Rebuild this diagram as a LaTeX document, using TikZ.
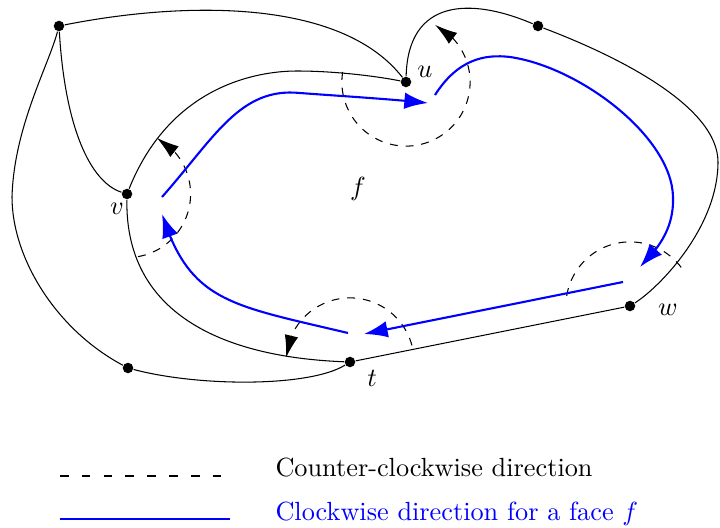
\documentclass[tikz,border=0pt]{standalone}
\usetikzlibrary{arrows.meta,bending}
\begin{document}
\begin{tikzpicture}[x=0.3806pt,y=0.3806pt,
  dot/.style={circle,fill=black,inner sep=0pt,minimum size=4pt},
  edge/.style={line width=0.4pt},
  turn/.style={dashed,line width=0.4pt},
  turnarrow/.style={turn,-{Latex[length=8.5pt,width=5.2pt]}},
  walk/.style={blue,line width=0.8pt,-{Latex[length=9pt,width=6.3pt]}},
  lbl/.style={inner sep=1pt}]
\useasboundingbox (0,0) rectangle (720,527);

% vertices
\node[dot] (A) at (59,501) {};
\node[dot] (B) at (538,501) {};
\node[dot] (u) at (406,445) {};
\node[dot] (v) at (127,333) {};
\node[dot] (w) at (630,221) {};
\node[dot] (t) at (350,165) {};
\node[dot] (C) at (128,159) {};

% edges of the graph
\draw[edge] (A) .. controls (180,525) and (340,530) .. (u);
\draw[edge] (u) .. controls (408,528) and (470,530) .. (B);
\draw[edge] (B) .. controls (620,470) and (718,420) .. (718,365)
                .. controls (718,300) and (660,240) .. (w);
\draw[edge] (u) .. controls (370,452) and (330,456) .. (297,456)
                .. controls (255,456) and (170,440) .. (v);
\draw[edge] (A) .. controls (65,400) and (90,345) .. (v);
\draw[edge] (A) .. controls (48,460) and (14,400) .. (12,330)
                .. controls (12,270) and (55,198) .. (C);
\draw[edge] (v) .. controls (125,215) and (220,170) .. (t);
\draw[edge] (C) .. controls (200,140) and (310,140) .. (t);
\draw[edge] (t) -- (w);

% rotations around the vertices
\draw[turnarrow] (u) ++(171:24.4pt) arc[start angle=171, end angle=423, radius=24.4pt];
\draw[turnarrow] (v) ++(-80:24.2pt) arc[start angle=-80, end angle=62, radius=24.2pt];
\draw[turnarrow] (t) ++(15:24.4pt) arc[start angle=15, end angle=176, radius=24.4pt];
\draw[turn] (w) ++(37:24.4pt) arc[start angle=37, end angle=177, radius=24.4pt];

% walk along the face f
\coordinate (b1s) at (162,330); \coordinate (b1e) at (428,424);
\draw[walk] (b1s) .. controls (215,390) and (240,440) .. (300,434)
                  .. controls (340,431) and (390,428) .. (b1e);
\coordinate (b2s) at (435,432); \coordinate (b2e) at (640,260);
\draw[walk] (b2s) .. controls (458,468) and (485,473) .. (510,470)
                  .. controls (580,460) and (672,390) .. (673,330)
                  .. controls (674,300) and (660,280) .. (b2e);
\coordinate (b3s) at (623,245); \coordinate (b3e) at (364,193);
\draw[walk] (b3s) -- (b3e);
\coordinate (b4s) at (348,194); \coordinate (b4e) at (162,313);
\draw[walk] (b4s) .. controls (230,222) and (190,225) .. (b4e);

% labels
\node[lbl] (lu) at (425,455) {$u$};
\node[lbl] (lv) at (117,318) {$v$};
\node[lbl] (lw) at (668,217) {$w$};
\node[lbl] (lt) at (372,149) {$t$};
\node[lbl] (lf) at (358,338) {$f$};

% legend
\coordinate (d1) at (60,51); \coordinate (d2) at (222,51);
\draw[dash pattern=on 3.3pt off 5pt] (d1) -- (d2);
\coordinate (s1) at (60,8); \coordinate (s2) at (230,8);
\draw[blue,line width=0.4pt] (s1) -- (s2);
\node[anchor=base west,inner sep=0pt] (k1) at (275,51) {Counter-clockwise direction};
\node[anchor=base west,inner sep=0pt,text=blue] (k2) at (275,7) {Clockwise direction for a face $f$};
\end{tikzpicture}
\end{document}
